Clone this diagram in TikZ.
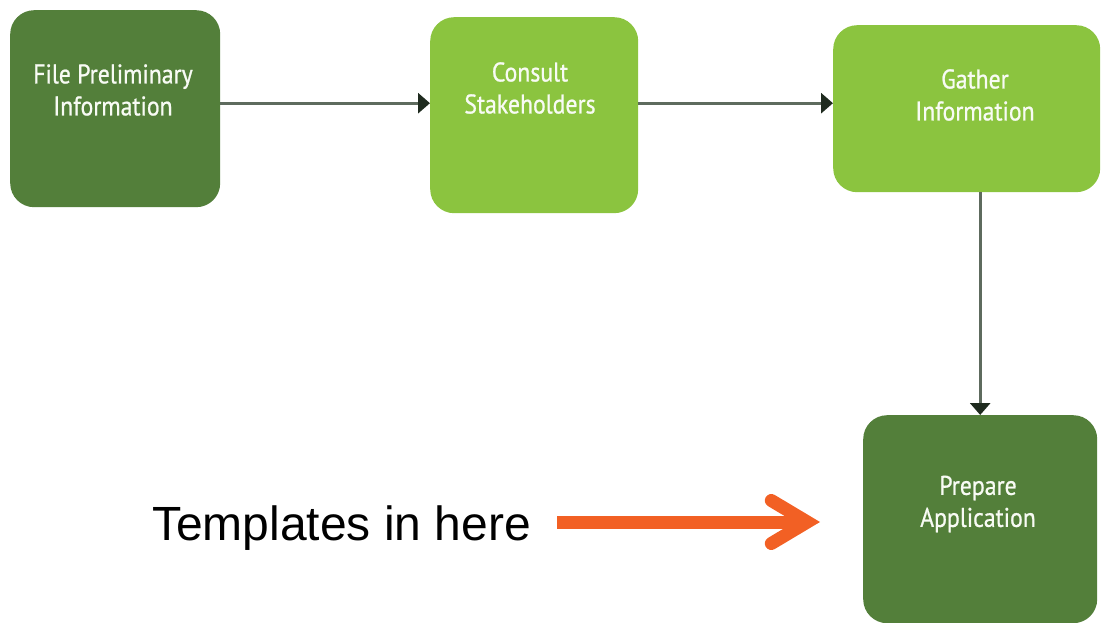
\documentclass[tikz,border=0pt]{standalone}
\usepackage{fontspec}
\setmainfont{Liberation Sans}
\newfontfamily\boxfont[FakeStretch=0.88, FakeBold=0.8]{PT Sans}
\usetikzlibrary{arrows.meta}

\definecolor{darkleaf}{HTML}{537F3A}
\definecolor{lightleaf}{HTML}{8BC43F}
\definecolor{linkgray}{HTML}{5E6B5E}
\definecolor{linkhead}{HTML}{1F2B1F}
\definecolor{pointer}{HTML}{F26024}

\tikzset{
  stepbox/.style={draw=none, rounded corners=24pt, anchor=north west, inner sep=0pt},
  darkbox/.style={stepbox, fill=darkleaf},
  lightbox/.style={stepbox, fill=lightleaf},
  boxtext/.style={text=white!94!lightleaf, align=center, font=\boxfont\fontsize{27}{32}\selectfont, inner sep=0pt},
  link/.style={draw=linkgray, line width=3pt,
    -{Triangle[length=12pt, width=20pt, color=linkhead]}},
  pointerarrow/.style={draw=pointer, line width=13pt,
    -{Straight Barb[length=36pt, width=43pt, line cap=round, line join=miter]}},
  note/.style={font=\fontsize{48}{56}\selectfont, inner sep=0pt, anchor=west,
    text height=36pt, text depth=0pt}
}

\begin{document}
\begin{tikzpicture}[x=1pt, y=-1pt]
  \useasboundingbox (0,0) rectangle (1101,623);

  % process steps
  \node[darkbox,  minimum width=210pt, minimum height=197pt] (b1) at (10,10) {};
  \node[lightbox, minimum width=208pt, minimum height=196pt] (b2) at (430,17) {};
  \node[lightbox, minimum width=267pt, minimum height=167pt] (b3) at (833,25) {};
  \node[darkbox,  minimum width=234pt, minimum height=208pt] (b4) at (863,415) {};

  % step captions
  \node[boxtext] (t1) at (113,90) {File Preliminary\\Information};
  \node[boxtext] (t2) at (530,88) {Consult\\Stakeholders};
  \node[boxtext] (t3) at (975,95) {Gather\\Information};
  \node[boxtext] (t4) at (978,504) {Prepare\\Application};

  % flow between steps
  \draw[link] ([yshift=5.5pt]b1.east) -- ([yshift=12pt]b2.west);
  \draw[link] ([yshift=12pt]b2.east) -- ([yshift=5.5pt]b3.west);
  \draw[link] (b3.south -| b4.north) -- (b4.north);

  % annotation
  \node[note] (tmpl) at (152,522) {Templates in here};
  \draw[pointerarrow, shorten <=26pt, shorten >=43pt] (tmpl.east) -- (tmpl.east -| b4.west);
\end{tikzpicture}
\end{document}
